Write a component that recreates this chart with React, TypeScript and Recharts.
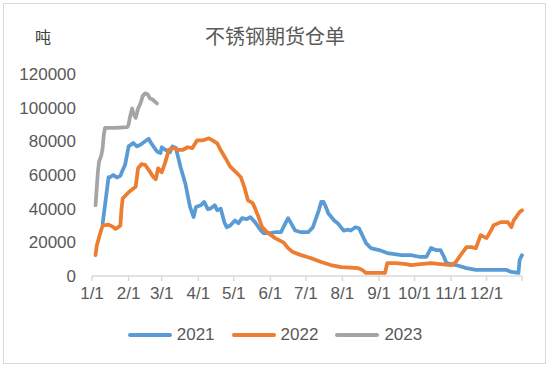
import React from 'react';
import { LineChart, Line, XAxis, YAxis } from 'recharts';

const monthTicks = [0, 31, 59, 90, 120, 151, 181, 212, 243, 273, 304, 334, 364];
const monthLabels = ['1/1', '2/1', '3/1', '4/1', '5/1', '6/1', '7/1', '8/1', '9/1', '10/1', '11/1', '12/1', ''];
const yTicks = [0, 20000, 40000, 60000, 80000, 100000, 120000];

const seriesNames = ['2021', '2022', '2023'];
const seriesColors = ['#5B9BD5', '#ED7D31', '#A5A5A5'];

const days2021 = [9, 14, 15, 18, 21, 24, 26, 28, 31, 35, 38, 41, 45, 48, 50, 53, 55, 58, 59, 62, 66, 68, 71, 75, 79, 83, 86, 88, 92, 95, 98, 100, 104, 106, 109, 112, 114, 117, 121, 124, 127, 131, 134, 138, 143, 145, 151, 155, 160, 162, 166, 168, 172, 177, 183, 187, 192, 194, 196, 198, 200, 205, 208, 213, 217, 219, 223, 226, 228, 232, 236, 243, 250, 262, 270, 278, 283, 287, 291, 295, 298, 300, 304, 308, 317, 325, 338, 351, 355, 361, 362, 364];
const values2021 = [31000, 58700, 58500, 60000, 58500, 59500, 63000, 66000, 77000, 79000, 77000, 78000, 80000, 81500, 79000, 76000, 74000, 73000, 76500, 75000, 73500, 77000, 76000, 64600, 55000, 41000, 35000, 41000, 42000, 44000, 39700, 40000, 42000, 39000, 40000, 32000, 29000, 30000, 33000, 31400, 34400, 33800, 35000, 32000, 27000, 25500, 25500, 26000, 26000, 29000, 34400, 32000, 27000, 26000, 26000, 29000, 39000, 44000, 44000, 41000, 37300, 33000, 31400, 27000, 27500, 27000, 29000, 28400, 25500, 19500, 16600, 15400, 13600, 12400, 12400, 11300, 11300, 16600, 15400, 15400, 11300, 7700, 7100, 6500, 4700, 3600, 3600, 3600, 2400, 1800, 9500, 12400];

const days2022 = [3, 4, 7, 9, 14, 17, 20, 21, 24, 25, 26, 31, 35, 37, 39, 42, 45, 49, 52, 54, 56, 59, 62, 65, 69, 73, 77, 81, 85, 89, 94, 99, 102, 106, 109, 113, 117, 122, 126, 129, 132, 136, 138, 141, 144, 149, 155, 162, 166, 170, 177, 185, 194, 202, 211, 219, 225, 229, 232, 240, 248, 250, 257, 266, 270, 278, 287, 295, 304, 308, 312, 317, 321, 325, 329, 334, 338, 340, 346, 352, 355, 357, 362, 364];
const values2022 = [12400, 18000, 25500, 30000, 30500, 29500, 28000, 28400, 30000, 40000, 46000, 49800, 52000, 53000, 64000, 66500, 66000, 62000, 58700, 57500, 64000, 61600, 67500, 75000, 76000, 75000, 75000, 76500, 76000, 80600, 80600, 81800, 80600, 78800, 74700, 70000, 65000, 61600, 58700, 52700, 45000, 43300, 40300, 35000, 29000, 25500, 22500, 20000, 16600, 14200, 12400, 10700, 8300, 6500, 5300, 5000, 4700, 3500, 1800, 1800, 1800, 7700, 7700, 7100, 6500, 7100, 7700, 7100, 6500, 8300, 12400, 17200, 17200, 16600, 24300, 22500, 27300, 30200, 32000, 32000, 29000, 33000, 38000, 39000];

const days2023 = [3, 4, 5, 6, 8, 9, 10, 11, 20, 30, 31, 32, 34, 35, 37, 39, 41, 43, 45, 47, 49, 51, 55];
const values2023 = [42000, 52000, 62000, 68000, 72000, 76000, 84000, 88000, 88000, 88500, 90000, 94000, 99500, 96500, 94000, 99500, 102500, 107000, 108500, 108000, 105500, 105000, 102500];

const build = (days: number[], values: number[]) => days.map((d, i) => ({ day: d, value: values[i] }));
const seriesData = [build(days2021, values2021), build(days2022, values2022), build(days2023, values2023)];

const numFont = '"Liberation Sans", Arial, sans-serif';
const cjkFont = '"Noto Sans CJK SC", sans-serif';

export default function App() {
  return (
    <div style={{ position: 'absolute', left: 0, top: 0, width: 550, height: 368, background: '#fff' }}>
      <div style={{ position: 'absolute', left: 3, top: 3, width: 541, height: 359, border: '1px solid #D9D9D9' }} />
      <div style={{ position: 'absolute', left: 0, top: 22, width: 550, textAlign: 'center', fontFamily: cjkFont, fontSize: 20, color: '#595959', lineHeight: '28px' }}>
        不锈钢期货仓单
      </div>
      <div style={{ position: 'absolute', left: 35, top: 26, fontFamily: cjkFont, fontSize: 16, color: '#404040', lineHeight: '20px' }}>
        吨
      </div>
      <div style={{ position: 'absolute', left: 0, top: 0 }}>
        <LineChart width={550} height={368} margin={{ top: 74, right: 28, bottom: 52, left: 0 }}>
          <XAxis
            dataKey="day"
            type="number"
            domain={[0, 364]}
            ticks={monthTicks}
            interval={0}
            allowDuplicatedCategory={false}
            tickFormatter={(v: number) => monthLabels[monthTicks.indexOf(v)] ?? ''}
            axisLine={{ stroke: '#D9D9D9', strokeWidth: 1.5 }}
            tickLine={{ stroke: '#D9D9D9', strokeWidth: 1.5 }}
            tickSize={5}
            tickMargin={6}
            height={40}
            tick={{ fill: '#595959', fontSize: 17, fontFamily: numFont }}
          />
          <YAxis
            type="number"
            domain={[0, 120000]}
            ticks={yTicks}
            interval={0}
            axisLine={false}
            tickLine={false}
            tickSize={0}
            tickMargin={16}
            width={92}
            tick={{ fill: '#595959', fontSize: 17, fontFamily: numFont }}
          />
          {seriesNames.map((n, i) => (
            <Line
              key={n}
              name={n}
              data={seriesData[i]}
              dataKey="value"
              type="linear"
              stroke={seriesColors[i]}
              strokeWidth={3.75}
              strokeLinejoin="round"
              strokeLinecap="round"
              dot={false}
              activeDot={false}
              isAnimationActive={false}
            />
          ))}
        </LineChart>
      </div>
      <div style={{ position: 'absolute', left: 0, top: 325, width: 550, display: 'flex', justifyContent: 'center', alignItems: 'center', fontFamily: numFont, fontSize: 17, color: '#595959', lineHeight: '20px' }}>
        {seriesNames.map((n, i) => (
          <div key={n} style={{ display: 'flex', alignItems: 'center', marginRight: i < 2 ? 17 : 0 }}>
            <div style={{ width: 44, height: 4, borderRadius: 2, background: seriesColors[i], marginRight: 5 }} />
            <span>{n}</span>
          </div>
        ))}
      </div>
    </div>
  );
}
